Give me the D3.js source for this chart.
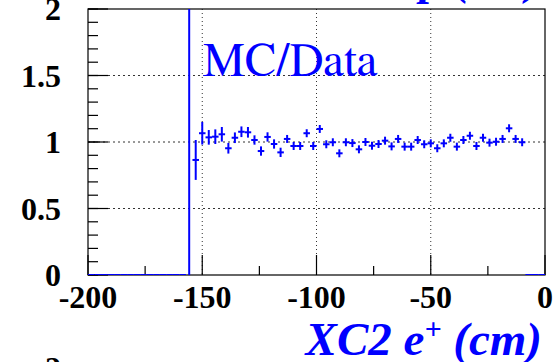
<!DOCTYPE html>
<html>
<head>
<meta charset="utf-8">
<script src="https://cdn.jsdelivr.net/npm/d3@7"></script>
<style>
  html, body { margin: 0; padding: 0; background: #fff; }
  svg { display: block; }
</style>
</head>
<body>
<div id="chart"></div>
<script>
// histogram binning (70 bins from -200 to 0)
const xRange = [-200, 0];
const nBins = 70;
const yRange = [0, 2];

// MC/Data ratio per bin
const ratio = [
  0, 0, 0, 0, 0, 0, 0, 0, 0, 0,
  0, 0, 0, 0, 0, 3.0, 0.865, 1.066, 1.035, 1.04,
  1.058, 0.953, 1.032, 1.077, 1.073, 1.015, 0.932, 1.038, 0.985, 0.922,
  1.023, 0.97, 0.97, 1.066, 0.97, 1.098, 0.983, 0.998, 0.915, 0.998,
  0.992, 0.945, 1.0, 0.972, 0.985, 1.01, 0.967, 1.023, 0.965, 0.965,
  1.015, 0.983, 0.99, 0.953, 0.99, 1.032, 0.965, 1.015, 1.047, 0.97,
  1.032, 0.995, 1.002, 1.023, 1.103, 1.023, 0.998, 0, 0, 0
];
const ratioErr = [
  0, 0, 0, 0, 0, 0, 0, 0, 0, 0,
  0, 0, 0, 0, 0, 3.0, 0.15, 0.085, 0.055, 0.055,
  0.055, 0.04, 0.04, 0.04, 0.04, 0.035, 0.035, 0.035, 0.035, 0.035,
  0.03, 0.03, 0.03, 0.03, 0.03, 0.03, 0.03, 0.03, 0.03, 0.03,
  0.03, 0.03, 0.03, 0.03, 0.03, 0.03, 0.03, 0.03, 0.03, 0.03,
  0.03, 0.03, 0.03, 0.03, 0.03, 0.03, 0.03, 0.03, 0.03, 0.03,
  0.03, 0.03, 0.03, 0.03, 0.03, 0.03, 0.03, 0, 0, 0
];

const xMajor = [-200, -150, -100, -50, 0];
const xMinor = [-175, -125, -75, -25];
const yMajor = [0, 0.5, 1, 1.5, 2];
const yMinor = d3.range(0, 2.0001, 0.1);
const xGrid = [-150, -100, -50];
const yGrid = [0.5, 1, 1.5];
const yLabels = ["0", "0.5", "1", "1.5", "2"];
const xLabels = ["-200", "-150", "-100", "-50", "0"];

const W = 556, H = 362;
const frame = { left: 88, right: 545, top: 9, bottom: 275 };
const serif = "Liberation Serif";
const labelSerif = "FreeSerif, serif";
const blue = "#0000ff";

const x = d3.scaleLinear().domain(xRange).range([frame.left, frame.right]);
const y = d3.scaleLinear().domain(yRange).range([frame.bottom, frame.top]);
const binW = (xRange[1] - xRange[0]) / nBins;

const svg = d3.select("#chart").append("svg")
  .attr("width", W).attr("height", H);

svg.append("defs").append("clipPath").attr("id", "frameClip")
  .append("rect")
  .attr("x", frame.left).attr("y", frame.top)
  .attr("width", frame.right - frame.left).attr("height", frame.bottom - frame.top);

// grid
svg.append("g").selectAll("line").data(xGrid).enter().append("line")
  .attr("x1", d => x(d)).attr("x2", d => x(d))
  .attr("y1", frame.top).attr("y2", frame.bottom)
  .attr("stroke", "#333").attr("stroke-width", 1).attr("stroke-dasharray", "1,3");
svg.append("g").selectAll("line").data(yGrid).enter().append("line")
  .attr("x1", frame.left).attr("x2", frame.right)
  .attr("y1", d => y(d)).attr("y2", d => y(d))
  .attr("stroke", "#333").attr("stroke-width", 1).attr("stroke-dasharray", "2,3");

// frame
svg.append("rect")
  .attr("x", frame.left).attr("y", frame.top)
  .attr("width", frame.right - frame.left).attr("height", frame.bottom - frame.top)
  .attr("fill", "none").attr("stroke", "#000").attr("stroke-width", 1.2);

// ticks
const ticks = svg.append("g").attr("stroke", "#000").attr("stroke-width", 1.2);
ticks.selectAll(".ym").data(yMajor).enter().append("line")
  .attr("x1", frame.left).attr("x2", frame.left + 20)
  .attr("y1", d => y(d)).attr("y2", d => y(d));
ticks.selectAll(".yn").data(yMinor).enter().append("line")
  .attr("x1", frame.left).attr("x2", frame.left + 10)
  .attr("y1", d => y(d)).attr("y2", d => y(d));
ticks.selectAll(".xm").data(xMajor).enter().append("line")
  .attr("x1", d => x(d)).attr("x2", d => x(d))
  .attr("y1", frame.bottom).attr("y2", frame.bottom - 20);
ticks.selectAll(".xn").data(xMinor).enter().append("line")
  .attr("x1", d => x(d)).attr("x2", d => x(d))
  .attr("y1", frame.bottom).attr("y2", frame.bottom - 9);

// tick labels
svg.append("g").selectAll("text").data(yMajor).enter().append("text")
  .attr("x", 61).attr("y", d => y(d) + 11)
  .attr("text-anchor", "end")
  .style("font-family", serif).style("font-weight", "bold").style("font-size", "32px")
  .text((d, i) => yLabels[i]);
svg.append("g").selectAll("text").data(xMajor).enter().append("text")
  .attr("x", d => x(d)).attr("y", 308)
  .attr("text-anchor", "middle")
  .style("font-family", serif).style("font-weight", "bold").style("font-size", "32px")
  .text((d, i) => xLabels[i]);

// data points with error bars
const bins = ratio.map((v, i) => ({
  lo: xRange[0] + i * binW, hi: xRange[0] + (i + 1) * binW,
  c: xRange[0] + (i + 0.5) * binW, v, e: ratioErr[i]
}));
const pts = svg.append("g").attr("clip-path", "url(#frameClip)")
  .attr("stroke", blue).attr("stroke-width", 2);
pts.selectAll(".h").data(bins).enter().append("line")
  .attr("x1", d => x(d.lo)).attr("x2", d => x(d.hi))
  .attr("y1", d => y(d.v)).attr("y2", d => y(d.v));
pts.selectAll(".v").data(bins.filter(d => d.e > 0)).enter().append("line")
  .attr("x1", d => x(d.c)).attr("x2", d => x(d.c))
  .attr("y1", d => y(d.v - d.e)).attr("y2", d => y(d.v + d.e));

// labels
svg.append("text")
  .attr("x", 203).attr("y", 76)
  .attr("fill", blue)
  .style("font-family", labelSerif).style("font-size", "47px")
  .text("MC/Data");

const title = svg.append("text")
  .attr("x", 542).attr("y", 355)
  .attr("text-anchor", "end")
  .attr("fill", blue)
  .style("font-family", serif).style("font-weight", "bold").style("font-style", "italic")
  .style("font-size", "47px");
title.append("tspan").text("XC2 e");
title.append("tspan").attr("dy", -16).style("font-size", "30px").text("+");
title.append("tspan").attr("dy", 16).text(" (cm)");

// pieces of the neighbouring pads
svg.append("text")
  .attr("x", 541).attr("y", -6)
  .attr("text-anchor", "end")
  .attr("fill", blue)
  .style("font-family", serif).style("font-weight", "bold").style("font-style", "italic")
  .style("font-size", "46px")
  .text("XC2 p (cm)");
svg.append("text")
  .attr("x", 61).attr("y", 379)
  .attr("text-anchor", "end")
  .style("font-family", serif).style("font-weight", "bold").style("font-size", "32px")
  .text("2");
</script>
</body>
</html>
